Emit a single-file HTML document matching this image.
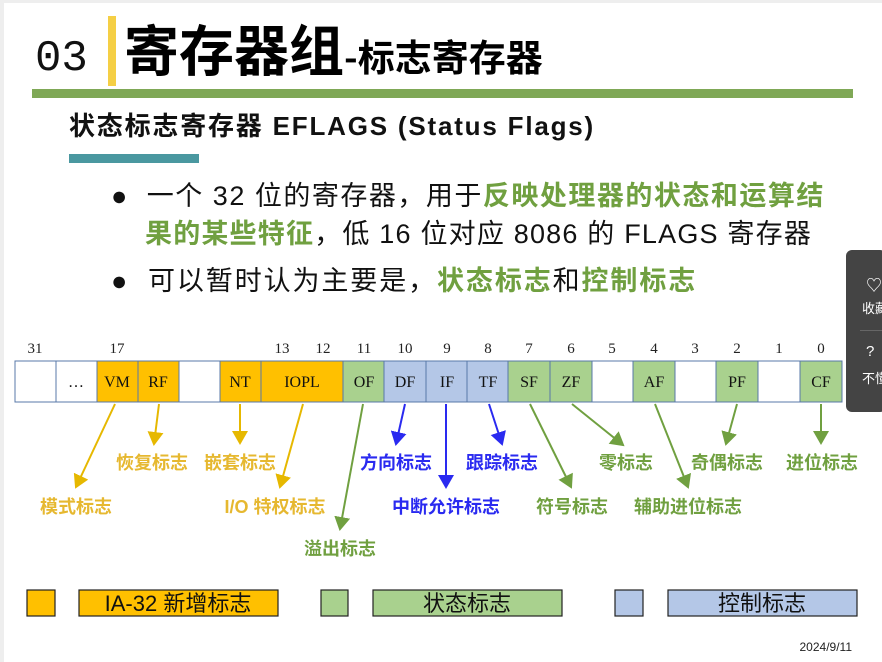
<!DOCTYPE html>
<html><head><meta charset="utf-8"><style>
body{margin:0;width:882px;height:662px;overflow:hidden;background:#fff;font-family:"Liberation Sans","Noto Sans CJK SC",sans-serif;position:relative}
.a{position:absolute;white-space:nowrap}
.g{color:#70A040;font-weight:bold}
</style></head><body>
<div class="a" style="left:0;top:0;width:4px;height:662px;background:#eee"></div>
<div class="a" style="left:0;top:0;width:882px;height:3px;background:#eee"></div>
<div class="a" style="left:35px;top:34px;font-family:'Liberation Mono',monospace;font-size:44px;color:#111">03</div>
<div class="a" style="left:108px;top:16px;width:8px;height:70px;background:#F5CF45"></div>
<div class="a" style="left:124px;top:14px;font-size:55px;font-weight:bold;color:#000;font-family:'Noto Sans CJK SC',sans-serif;line-height:66px">寄存器组<span style="font-size:37px">-标志寄存器</span></div>
<div class="a" style="left:32px;top:89px;width:821px;height:9px;background:#7FA856"></div>
<div class="a" style="left:69px;top:110px;font-size:26px;letter-spacing:1.8px;font-weight:bold;color:#111;line-height:32px">状态标志寄存器 EFLAGS (Status Flags)</div>
<div class="a" style="left:69px;top:154px;width:130px;height:9px;background:#4A98A0"></div>
<div class="a" style="left:111px;top:177px;font-size:27px;letter-spacing:1.5px;line-height:38px;color:#111">●&nbsp; 一个 32 位的寄存器，用于<span class="g">反映处理器的状态和运算结</span></div>
<div class="a" style="left:145px;top:215px;font-size:27px;letter-spacing:1.2px;line-height:38px;color:#111"><span class="g">果的某些特征</span>，低 16 位对应 8086 的 FLAGS 寄存器</div>
<div class="a" style="left:111px;top:262px;font-size:27px;letter-spacing:1.9px;line-height:38px;color:#111">●&nbsp; 可以暂时认为主要是，<span class="g">状态标志</span>和<span class="g">控制标志</span></div>
<div class="a" style="left:846px;top:250px;width:40px;height:162px;background:#444;border-radius:6px"></div>
<div class="a" style="left:866px;top:272px;color:#fff;font-size:16px">♡</div>
<div class="a" style="left:862px;top:298px;color:#fff;font-size:13px">收藏</div>
<div class="a" style="left:860px;top:330px;width:26px;height:1px;background:#666"></div>
<div class="a" style="left:866px;top:343px;color:#fff;font-size:15px">?</div>
<div class="a" style="left:862px;top:368px;color:#fff;font-size:13px">不懂</div>
<svg class="a" style="left:0;top:0" width="882" height="662" font-family="Liberation Serif,serif">
<defs>
<marker id="my" markerWidth="8" markerHeight="8" refX="6" refY="4" orient="auto"><path d="M0,0 L7,4 L0,8 z" fill="#E6B800"/></marker>
<marker id="mg" markerWidth="8" markerHeight="8" refX="6" refY="4" orient="auto"><path d="M0,0 L7,4 L0,8 z" fill="#70A040"/></marker>
<marker id="mb" markerWidth="8" markerHeight="8" refX="6" refY="4" orient="auto"><path d="M0,0 L7,4 L0,8 z" fill="#2A2AF0"/></marker>
</defs>
<g font-size="15" fill="#222" text-anchor="middle">
<text x="35" y="353">31</text><text x="117" y="353">17</text><text x="282" y="353">13</text><text x="323" y="353">12</text><text x="364" y="353">11</text><text x="405" y="353">10</text><text x="447" y="353">9</text><text x="488" y="353">8</text><text x="529" y="353">7</text><text x="571" y="353">6</text><text x="612" y="353">5</text><text x="654" y="353">4</text><text x="695" y="353">3</text><text x="737" y="353">2</text><text x="779" y="353">1</text><text x="821" y="353">0</text>
</g>
<g stroke="#5878A8" stroke-width="1">
<rect x="15" y="361" width="41" height="41" fill="#fff"/>
<rect x="56" y="361" width="41" height="41" fill="#fff"/>
<rect x="97" y="361" width="41" height="41" fill="#FFC000"/>
<rect x="138" y="361" width="41" height="41" fill="#FFC000"/>
<rect x="179" y="361" width="41" height="41" fill="#fff"/>
<rect x="220" y="361" width="41" height="41" fill="#FFC000"/>
<rect x="261" y="361" width="82" height="41" fill="#FFC000"/>
<rect x="343" y="361" width="41" height="41" fill="#A9D18E"/>
<rect x="384" y="361" width="42" height="41" fill="#B4C7E7"/>
<rect x="426" y="361" width="41" height="41" fill="#B4C7E7"/>
<rect x="467" y="361" width="41" height="41" fill="#B4C7E7"/>
<rect x="508" y="361" width="42" height="41" fill="#A9D18E"/>
<rect x="550" y="361" width="42" height="41" fill="#A9D18E"/>
<rect x="592" y="361" width="41" height="41" fill="#fff"/>
<rect x="633" y="361" width="42" height="41" fill="#A9D18E"/>
<rect x="675" y="361" width="41" height="41" fill="#fff"/>
<rect x="716" y="361" width="42" height="41" fill="#A9D18E"/>
<rect x="758" y="361" width="42" height="41" fill="#fff"/>
<rect x="800" y="361" width="42" height="41" fill="#A9D18E"/>
</g>
<g font-size="16" fill="#111" text-anchor="middle">
<text x="76" y="387">…</text><text x="117" y="387">VM</text><text x="158" y="387">RF</text><text x="240" y="387">NT</text><text x="302" y="387">IOPL</text><text x="364" y="387">OF</text><text x="405" y="387">DF</text><text x="447" y="387">IF</text><text x="488" y="387">TF</text><text x="529" y="387">SF</text><text x="571" y="387">ZF</text><text x="654" y="387">AF</text><text x="737" y="387">PF</text><text x="821" y="387">CF</text>
</g>
<g stroke-width="2" fill="none">
<line x1="115" y1="404" x2="76" y2="487" stroke="#E6B800" marker-end="url(#my)"/>
<line x1="159" y1="404" x2="154" y2="444" stroke="#E6B800" marker-end="url(#my)"/>
<line x1="240" y1="404" x2="240" y2="443" stroke="#E6B800" marker-end="url(#my)"/>
<line x1="303" y1="404" x2="280" y2="487" stroke="#E6B800" marker-end="url(#my)"/>
<line x1="363" y1="404" x2="340" y2="529" stroke="#70A040" marker-end="url(#mg)"/>
<line x1="405" y1="404" x2="396" y2="444" stroke="#2A2AF0" marker-end="url(#mb)"/>
<line x1="446" y1="404" x2="446" y2="487" stroke="#2A2AF0" marker-end="url(#mb)"/>
<line x1="489" y1="404" x2="502" y2="444" stroke="#2A2AF0" marker-end="url(#mb)"/>
<line x1="530" y1="404" x2="571" y2="487" stroke="#70A040" marker-end="url(#mg)"/>
<line x1="572" y1="404" x2="623" y2="445" stroke="#70A040" marker-end="url(#mg)"/>
<line x1="655" y1="404" x2="688" y2="487" stroke="#70A040" marker-end="url(#mg)"/>
<line x1="737" y1="404" x2="726" y2="444" stroke="#70A040" marker-end="url(#mg)"/>
<line x1="821" y1="404" x2="821" y2="443" stroke="#70A040" marker-end="url(#mg)"/>
</g>
<g font-family="Liberation Sans,Noto Sans CJK SC,sans-serif" font-size="18" font-weight="bold" text-anchor="middle">
<text x="76" y="513" fill="#E6B830">模式标志</text>
<text x="152" y="469" fill="#E6B830">恢复标志</text>
<text x="240" y="469" fill="#E6B830">嵌套标志</text>
<text x="275" y="513" fill="#E6B830">I/O 特权标志</text>
<text x="340" y="555" fill="#70A040">溢出标志</text>
<text x="396" y="469" fill="#2A2AF0">方向标志</text>
<text x="446" y="513" fill="#2A2AF0">中断允许标志</text>
<text x="502" y="469" fill="#2A2AF0">跟踪标志</text>
<text x="572" y="513" fill="#70A040">符号标志</text>
<text x="626" y="469" fill="#70A040">零标志</text>
<text x="688" y="513" fill="#70A040">辅助进位标志</text>
<text x="727" y="469" fill="#70A040">奇偶标志</text>
<text x="822" y="469" fill="#70A040">进位标志</text>
</g>
<g stroke="#222" stroke-width="1.2">
<rect x="27" y="590" width="28" height="26" fill="#FFC000"/>
<rect x="79" y="590" width="199" height="26" fill="#FFC000"/>
<rect x="321" y="590" width="27" height="26" fill="#A9D18E"/>
<rect x="373" y="590" width="189" height="26" fill="#A9D18E"/>
<rect x="615" y="590" width="28" height="26" fill="#B4C7E7"/>
<rect x="668" y="590" width="189" height="26" fill="#B4C7E7"/>
</g>
<g font-family="Liberation Sans,Noto Sans CJK SC,sans-serif" font-size="22" fill="#111" text-anchor="middle">
<text x="178" y="611">IA-32 新增标志</text>
<text x="467" y="611">状态标志</text>
<text x="762" y="611">控制标志</text>
</g>
<text x="852" y="651" font-family="Liberation Sans,sans-serif" font-size="12" fill="#222" text-anchor="end">2024/9/11</text>
</svg>
</body></html>
